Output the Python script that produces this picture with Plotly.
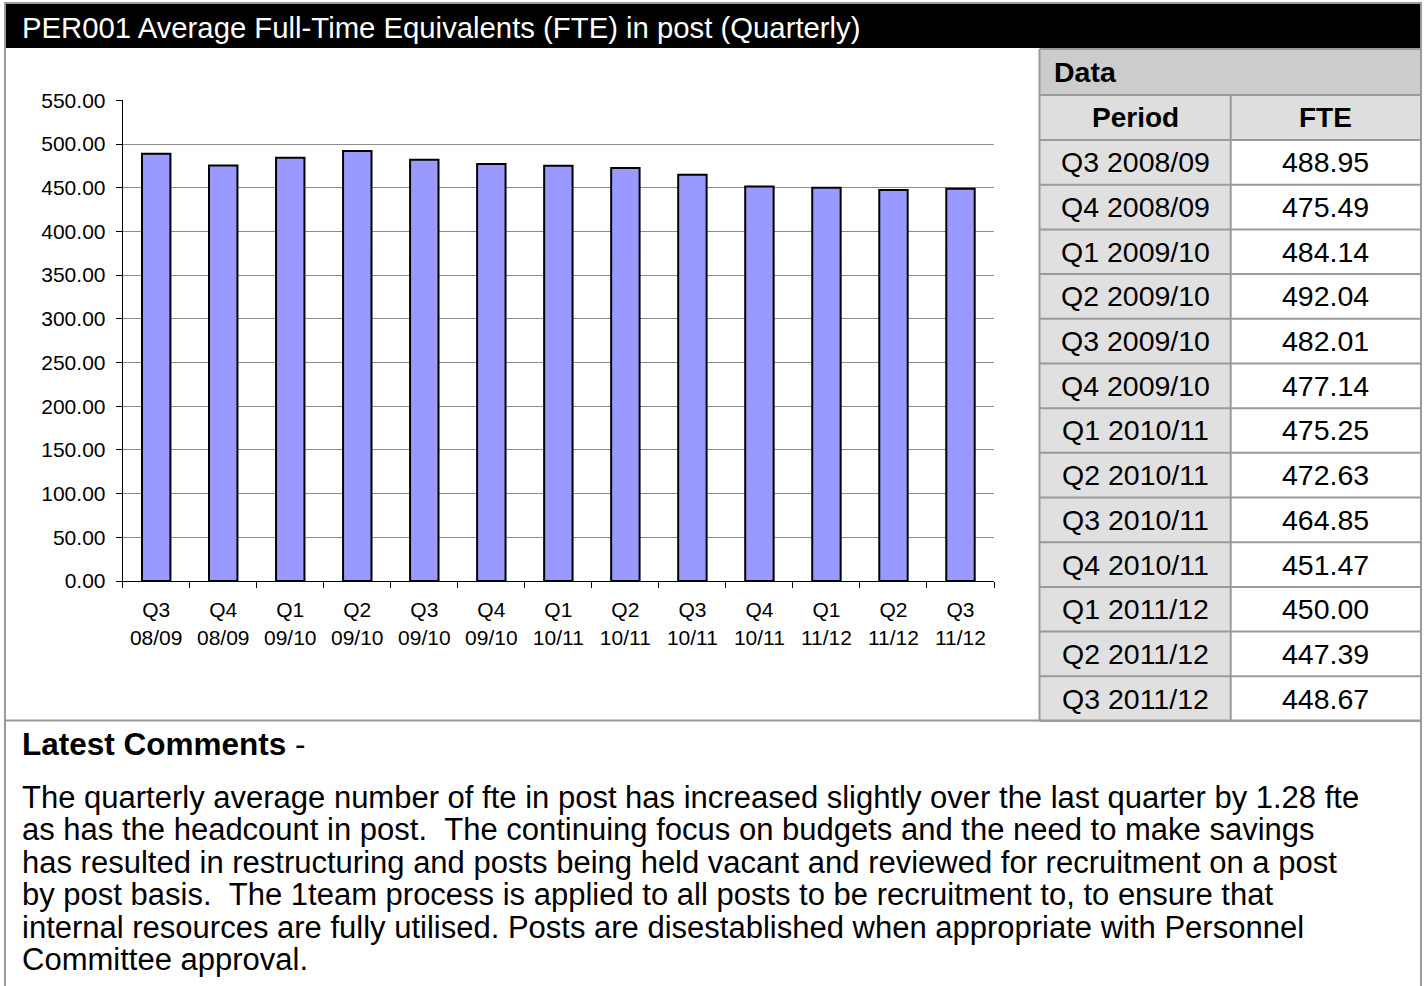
import plotly.graph_objects as go

W, H = 1425, 986

periods = ["Q3 2008/09", "Q4 2008/09", "Q1 2009/10", "Q2 2009/10", "Q3 2009/10",
           "Q4 2009/10", "Q1 2010/11", "Q2 2010/11", "Q3 2010/11", "Q4 2010/11",
           "Q1 2011/12", "Q2 2011/12", "Q3 2011/12"]
fte = [488.95, 475.49, 484.14, 492.04, 482.01, 477.14, 475.25,
       472.63, 464.85, 451.47, 450.00, 447.39, 448.67]
quarters = ["Q3", "Q4", "Q1", "Q2", "Q3", "Q4", "Q1", "Q2", "Q3", "Q4", "Q1", "Q2", "Q3"]
years = ["08/09", "08/09", "09/10", "09/10", "09/10", "09/10", "10/11",
         "10/11", "10/11", "10/11", "11/12", "11/12", "11/12"]

title = "PER001 Average Full-Time Equivalents (FTE) in post (Quarterly)"
comment_lines = [
    "The quarterly average number of fte in post has increased slightly over the last quarter by 1.28 fte",
    "as has the headcount in post. \u00a0The continuing focus on budgets and the need to make savings",
    "has resulted in restructuring and posts being held vacant and reviewed for recruitment on a post",
    "by post basis. \u00a0The 1team process is applied to all posts to be recruitment to, to ensure that",
    "internal resources are fully utilised. Posts are disestablished when appropriate with Personnel",
    "Committee approval.",
]

FONT = "Liberation Sans, Arial, sans-serif"
GREY = "#9a9a9a"


def px(x):
    return x / W


def py(y):
    return 1 - y / H


shapes = []
annotations = []


def rect(x0, y0, x1, y1, fill=None, line=None, lw=0):
    shapes.append(dict(type="rect", xref="paper", yref="paper",
                       x0=px(x0), x1=px(x1), y0=py(y1), y1=py(y0),
                       fillcolor=fill or "rgba(0,0,0,0)",
                       line=dict(color=line or "rgba(0,0,0,0)", width=lw),
                       layer="below"))


def hline(x0, x1, y, color=GREY, lw=2):
    shapes.append(dict(type="line", xref="paper", yref="paper",
                       x0=px(x0), x1=px(x1), y0=py(y), y1=py(y),
                       line=dict(color=color, width=lw)))


def vline(x, y0, y1, color=GREY, lw=2):
    shapes.append(dict(type="line", xref="paper", yref="paper",
                       x0=px(x), x1=px(x), y0=py(y0), y1=py(y1),
                       line=dict(color=color, width=lw)))


def text(x, y, s, size, color="black", xanchor="left", bold=False):
    if bold:
        s = "<b>" + s + "</b>"
    annotations.append(dict(xref="paper", yref="paper", x=px(x), y=py(y), text=s,
                            showarrow=False, xanchor=xanchor, yanchor="middle",
                            font=dict(family=FONT, size=size, color=color)))


# page frame and title bar
vline(5, 3, 986)
vline(1421, 3, 986)
hline(4, 1422, 3)
rect(5, 4, 1422, 48, fill="black")
text(20, 27, title, 29.3, color="white")
hline(5, 1421, 720.5)

# data table
tx0, tmid, tx1 = 1039.5, 1230.7, 1421
rect(tx0, 49, tx1, 95, fill="#cccccc")
rect(tx0, 95, tx1, 140, fill="#dedede")
row_h = (721 - 140) / len(periods)
rect(tx0, 140, tmid, 721, fill="#e0e0e0")
for y in [49, 95, 140] + [140 + row_h * (i + 1) for i in range(len(periods))]:
    hline(tx0, tx1, y)
vline(tx0, 49, 721)
vline(tmid, 95, 721)
vline(tx1, 49, 721)
text(1052, 72, "Data", 28.5, bold=True)
text((tx0 + tmid) / 2, 118, "Period", 28, xanchor="center", bold=True)
text((tmid + tx1) / 2, 118, "FTE", 28, xanchor="center", bold=True)
for i, (p, v) in enumerate(zip(periods, fte)):
    yc = 140 + row_h * (i + 0.5)
    text((tx0 + tmid) / 2, yc, p, 28.5, xanchor="center")
    text((tmid + tx1) / 2, yc, f"{v:.2f}", 28.5, xanchor="center")

# comments
text(20, 744, "<b>Latest Comments</b> -", 31.5)
for i, line in enumerate(comment_lines):
    text(20, 797 + 32.5 * i, line, 31)

fig = go.Figure(go.Bar(
    x=periods, y=fte,
    marker=dict(color="#9999ff", line=dict(color="black", width=2)),
    hoverinfo="x+y",
))

fig.update_layout(
    template="none",
    width=W, height=H, autosize=False,
    margin=dict(l=0, r=0, t=0, b=0, pad=0, autoexpand=False),
    paper_bgcolor="white", plot_bgcolor="white",
    showlegend=False, bargap=0.576,
    shapes=shapes, annotations=annotations,
    font=dict(family=FONT, size=21, color="black"),
    xaxis=dict(
        domain=[px(122.7), px(994)],
        type="category", automargin=False,
        tickvals=periods,
        ticktext=[f"{q}<br>{y}" for q, y in zip(quarters, years)],
        tickson="boundaries", ticks="outside", ticklen=6, tickcolor="black",
        showline=True, linecolor="black", linewidth=1,
        showgrid=False, tickfont=dict(size=21), ticklabelstandoff=10,
    ),
    yaxis=dict(
        domain=[py(581), py(100.3)], automargin=False,
        range=[0, 550], dtick=50, tickformat=".2f",
        ticks="outside", ticklen=6, tickcolor="black",
        showline=True, linecolor="black", linewidth=1,
        gridcolor="#8c8c8c", gridwidth=1, zeroline=False,
        tickfont=dict(size=21), ticklabelstandoff=6,
    ),
)

# the page's default 8px body margin would push the figure off the window
fig.write_html("out.html", config={"displayModeBar": False},
               post_script="document.body.style.margin='0';document.body.style.overflow='hidden';")
